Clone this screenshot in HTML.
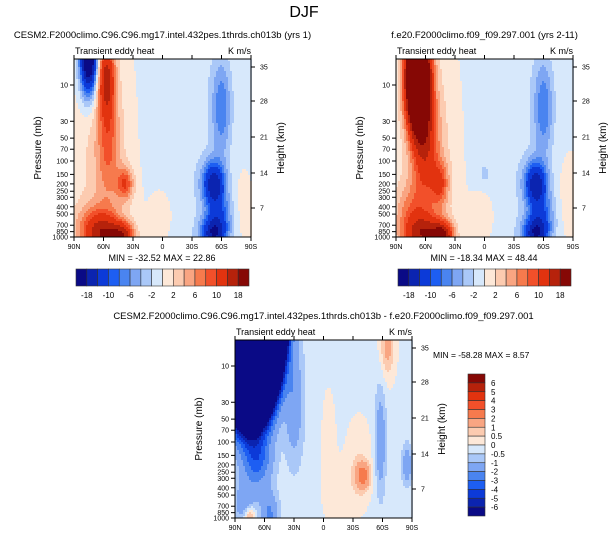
<!DOCTYPE html>
<html><head><meta charset="utf-8">
<style>
html,body{margin:0;padding:0;background:#fff;}
svg{display:block;font-family:"Liberation Sans",sans-serif;}
</style></head>
<body>
<svg id="chart" width="609" height="538" viewBox="0 0 609 538">
<text x="304" y="17" text-anchor="middle" font-size="16">DJF</text>
</svg>
<script>
// ---------- data ----------
const latTicks = ["90N","60N","30N","0","30S","60S","90S"];
const presTicks = [10,30,50,70,100,150,200,250,300,400,500,700,850,1000];
const heightTicks = [35,28,21,14,7];
const heightTickY = [67,101,137,173,208];
const levelsA = [-18,-14,-10,-8,-6,-4,-2,0,2,4,6,8,10,14,18];
const levelsAlabels = ["-18","-10","-6","-2","2","6","10","18"];
const levelsB = [-6,-5,-4,-3,-2,-1,-0.5,0,0.5,1,2,3,4,5,6];
const levelsBlabels = ["6","5","4","3","2","1","0.5","0","-0.5","-1","-2","-3","-4","-5","-6"];
// field blobs: latitude (N+ / S-), pressure (mb), amplitude, lat spread, log-p spread
const p1Lat = [75,57,55,38,60,40,70,60,0,-52,-60,-52,-58,-25,-80];
const p1Pres = [4,8,60,200,950,950,600,100,500,200,20,900,500,20,400];
const p1Amp = [-28,14,6,9,14,12,4,3,1.5,-16,-7,-16,-7,-1.5,1];
const p1SLat = [6,6,8,6,14,8,15,18,10,8,7,9,9,30,6];
const p1SLog = [0.35,0.35,0.5,0.15,0.18,0.12,0.2,1.0,0.3,0.2,0.45,0.15,0.2,2,0.3];
const p2Lat = [68,60,45,60,42,75,55,0,-52,-60,-52,-58,-25,-85,0];
const p2Pres = [8,60,200,950,950,500,100,500,200,20,900,500,20,300,150];
const p2Amp = [50,10,8,14,14,6,3,1.5,-16,-7,-16,-7,-1.5,1.5,-2];
const p2SLat = [8,9,6,14,7,12,18,10,8,7,9,9,30,6,4];
const p2SLog = [0.45,0.5,0.2,0.18,0.12,0.3,1.0,0.3,0.2,0.45,0.15,0.2,2,0.3,0.1];
const p3Lat = [75,68,80,75,-40,-35,-65,-58,10,-5,30,-20,55,-85];
const p3Pres = [1,170,650,950,280,150,5,100,20,100,30,500,900,200];
const p3Amp = [-1000,-3,-1.5,2,2.5,0.6,1.5,-1.5,-0.3,0.6,-1.5,0.4,-2,-1.5];
const p3SLat = [13,10,8,4,5,10,5,4,60,6,6,15,6,4];
const p3SLog = [0.6,0.25,0.2,0.1,0.12,0.4,0.3,0.5,3,0.6,0.5,0.3,0.2,0.2];
const colors = ["#0a0a86","#0b24b0","#0c3ad8","#1d5ef2","#4a84f0","#7ea6f3","#aac8f8","#d7e8fb",
                "#fde8d8","#fccbb0","#f9a582","#f67a4d","#f2502a","#e2330f","#b6220b","#860805"];
const svg = document.getElementById('chart');
const NS = "http://www.w3.org/2000/svg";
function mk(tag, attrs, parent){const e=document.createElementNS(NS,tag);for(const k in attrs)e.setAttribute(k,attrs[k]);(parent||svg).appendChild(e);return e;}
function txt(x,y,s,size,anchor,parent){const t=mk('text',{x:x,y:y,'font-size':size,'text-anchor':anchor||'start'},parent);t.textContent=s;return t;}

function drawPanel(ox, oy, title, lats, pres, amps, sl, sp, levels, name){
  const W=177, H=178;
  const ys = p => oy + H - (3 - Math.log10(p))*76;
  const g = mk('g',{});
  
  
  const fld = mk('g',{'shape-rendering':'crispEdges'},g);
  
  
  const step=2;
  for(let py=0; py<H; py+=step){
    const lp = 3 - (H-py-step/2)/76;
    for(let px=0; px<W; px+=step){
      const lat = 90 - (px+step/2)/W*180;
      let v=0;
      for(let i=0;i<lats.length;i++){
        const dl=(lat-lats[i])/sl[i], dp=(lp-Math.log10(pres[i]))/sp[i];
        v+=amps[i]*Math.exp(-0.5*(dl*dl+dp*dp));
      }
      let k=0; while(k<levels.length && v>=levels[k]) k++;
      mk('rect',{x:ox+px,y:oy+py,width:step,height:step,fill:colors[k]},fld);
    }
  }
  const frame = mk('rect',{x:ox,y:oy,width:W,height:H,fill:'none',stroke:'#000','stroke-width':1},g);
  
  
  latTicks.forEach((l,i)=>{
    const x=ox+i*W/6;
    mk('line',{x1:x,y1:oy+H,x2:x,y2:oy+H+4,stroke:'#000'},g);
    mk('line',{x1:x,y1:oy,x2:x,y2:oy-4,stroke:'#000'},g);
    const t=txt(x,oy+H+12,l,7,'middle',g);
    
    
  });
  presTicks.forEach(p=>{
    const y=ys(p);
    mk('line',{x1:ox,y1:y,x2:ox-4,y2:y,stroke:'#000'},g);
    const t=txt(ox-6,y+2.5,String(p),7,'end',g);
    
    
  });
  heightTicks.forEach((h,i)=>{
    const y=oy-59+heightTickY[i];
    mk('line',{x1:ox+W,y1:y,x2:ox+W+4,y2:y,stroke:'#000'},g);
    const t=txt(ox+W+9,y+2.5,String(h),7,'start',g);
    
    
  });
  const yt=txt(0,0,'Pressure (mb)',10,'middle',g);
  yt.setAttribute('transform',`translate(${ox-33},${oy+H/2}) rotate(-90)`);
  
  
  const ht=txt(0,0,'Height (km)',10,'middle',g);
  ht.setAttribute('transform',`translate(${ox+W+33},${oy+H/2}) rotate(-90)`);
  
  
  const st=txt(ox+1,oy-5,'Transient eddy heat',9,'start',g);
  
  
  const un=txt(ox+W,oy-5,'K m/s',9,'end',g);
  
  
  const tt=txt(ox+W/2,oy-21,title,9.5,'middle',g);
  
  
}

function hColorbar(x0,y0,labels,name){
  const g=mk('g',{});
  
  
  const w=173/16;
  colors.forEach((c,i)=>{
    mk('rect',{x:x0+i*w,y:y0,width:w,height:17,fill:c,stroke:'#333','stroke-width':0.6},g);
  });
  labels.forEach((l,i)=>{
    const t=txt(x0+(2*i+1)*w,y0+29,l,8,'middle',g);
    
    
  });
}

drawPanel(74,59,'CESM2.F2000climo.C96.C96.mg17.intel.432pes.1thrds.ch013b (yrs 1)',p1Lat,p1Pres,p1Amp,p1SLat,p1SLog,levelsA,'panel-test');
drawPanel(396,59,'f.e20.F2000climo.f09_f09.297.001 (yrs 2-11)',p2Lat,p2Pres,p2Amp,p2SLat,p2SLog,levelsA,'panel-control');
drawPanel(235,340,'CESM2.F2000climo.C96.C96.mg17.intel.432pes.1thrds.ch013b - f.e20.F2000climo.f09_f09.297.001',p3Lat,p3Pres,p3Amp,p3SLat,p3SLog,levelsB,'panel-difference');

let m1=txt(162,261,'MIN = -32.52  MAX =  22.86',9,'middle');


let m2=txt(484,261,'MIN = -18.34  MAX =  48.44',9,'middle');


let m3=txt(433,358,'MIN = -58.28  MAX =   8.57',8.5,'start');



hColorbar(76,269,levelsAlabels,'colorbar-test');
hColorbar(398,269,levelsAlabels,'colorbar-control');

(function(){
  const g=mk('g',{});
  
  
  const y0=374, h=142/16;
  for(let i=0;i<16;i++){
    mk('rect',{x:468,y:y0+i*h,width:17,height:h,fill:colors[15-i],stroke:'#333','stroke-width':0.6},g);
  }
  levelsBlabels.forEach((l,i)=>{
    const t=txt(491,y0+(i+1)*h+3,l,8,'start',g);
    
    
  });
})();
</script>
</body></html>
